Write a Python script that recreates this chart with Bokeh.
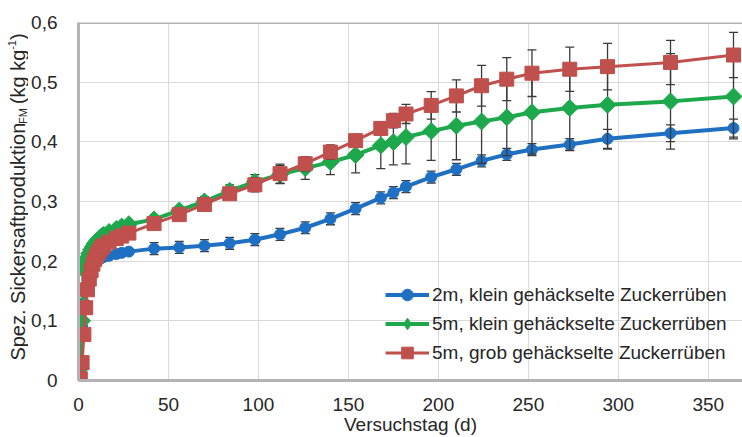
import numpy as np
from bokeh.plotting import figure
from bokeh.layouts import row
from bokeh.models import (Range1d, FixedTicker, Legend, LegendItem, Span,
                          ColumnDataSource)
from bokeh.core.properties import value
from bokeh.embed import file_html
from bokeh.resources import INLINE

# ---------------- data ----------------
days = [0, 1, 2, 3, 4, 5, 6, 7, 8, 9, 10, 11, 12, 13, 14, 17, 21, 24, 28,
        42, 56, 70, 84, 98, 112, 126, 140, 154, 168, 175, 182, 196, 210, 224,
        238, 252, 273, 294, 329, 364]

blue_vals = [0, 0.02, 0.09, 0.13, 0.155, 0.17, 0.18, 0.187, 0.192, 0.196, 0.199,
             0.202, 0.204, 0.206, 0.207, 0.209, 0.212, 0.214, 0.216,
             0.221, 0.223, 0.226, 0.230, 0.236, 0.245, 0.256, 0.271, 0.288, 0.306,
             0.315, 0.325, 0.341, 0.354, 0.368, 0.379, 0.387, 0.3955, 0.405,
             0.4145, 0.423]
blue_err = [0.003] * 19 + [0.01, 0.01, 0.01, 0.01, 0.01, 0.01, 0.01, 0.01, 0.01,
                           0.01, 0.01, 0.01, 0.01, 0.01, 0.01, 0.01, 0.01, 0.01,
                           0.016, 0.014, 0.015]

green_vals = [0, 0.02, 0.10, 0.185, 0.197, 0.206, 0.213, 0.219, 0.224, 0.229, 0.233,
              0.236, 0.239, 0.242, 0.244, 0.249, 0.254, 0.258, 0.262,
              0.27, 0.285, 0.30, 0.318, 0.333, 0.345, 0.356, 0.366, 0.378, 0.394,
              0.3995, 0.408, 0.418, 0.427, 0.434, 0.441, 0.4495, 0.4567, 0.462,
              0.4678, 0.476]
green_err = [0.004] * 19 + [0.005, 0.005, 0.008, 0.01, 0.012, 0.015, 0.019, 0.021,
                            0.03, 0.039, 0.038, 0.045, 0.049, 0.057, 0.07, 0.064,
                            0.07, 0.071, 0.074, 0.08, 0.071]

red_vals = [0, 0.003, 0.03, 0.077, 0.122, 0.152, 0.17, 0.184, 0.195, 0.203, 0.209,
            0.214, 0.219, 0.223, 0.226, 0.232, 0.238, 0.242, 0.247,
            0.263, 0.278, 0.295, 0.313, 0.328, 0.3467, 0.3633, 0.3828, 0.402,
            0.4225, 0.4355, 0.4467, 0.461, 0.477, 0.494, 0.505, 0.515, 0.5217,
            0.526, 0.533, 0.5455]
red_err = [0.004] * 19 + [0.008, 0.008, 0.008, 0.01, 0.012, 0.016, 0.012, 0.012,
                          0.01, 0.01, 0.012, 0.016, 0.023, 0.027, 0.034, 0.036,
                          0.039, 0.037, 0.039, 0.037, 0.038]

series_names = ["2m, klein gehäckselte Zuckerrüben",
                "5m, klein gehäckselte Zuckerrüben",
                "5m, grob gehäckselte Zuckerrüben"]

x_ticks = [0, 50, 100, 150, 200, 250, 300, 350]
y_ticks = [0, 0.1, 0.2, 0.3, 0.4, 0.5, 0.6]
y_tick_labels = ["0", "0,1", "0,2", "0,3", "0,4", "0,5", "0,6"]

x_title = "Versuchstag (d)"
# y title pieces: main, subscript, unit, superscript, closing
y_title_parts = ["Spez. Sickersaftproduktion", "FM", "(kg kg", "-1", ")"]

# ---------------- main figure ----------------
FONT = "Liberation Sans"
TXT = "#262626"
LEFT_W = 28
TOP, BOTTOM = 22, 54
p = figure(width=742 - LEFT_W, height=437, output_backend="svg",
           toolbar_location=None,
           x_range=Range1d(0, 369), y_range=Range1d(0, 0.6),
           min_border_left=78 - LEFT_W, min_border_right=0, min_border_top=TOP,
           min_border_bottom=BOTTOM)
p.background_fill_color = "white"
p.border_fill_color = "white"
p.outline_line_color = None

p.xaxis.ticker = FixedTicker(ticks=x_ticks)
p.yaxis.ticker = FixedTicker(ticks=y_ticks)
p.yaxis.major_label_overrides = dict(zip(y_ticks, y_tick_labels))
for ax in (p.xaxis, p.yaxis):
    ax.axis_line_color = "#b3b3b3"
    ax.axis_line_width = 3
    ax.major_tick_line_color = None
    ax.minor_tick_line_color = None
    ax.major_label_text_font = FONT
    ax.major_label_text_font_size = "19px"
    ax.major_label_text_color = TXT
p.xaxis.major_label_standoff = 11
p.yaxis.major_label_standoff = 15
p.xaxis.axis_label = x_title
p.xaxis.axis_label_text_font = FONT
p.xaxis.axis_label_text_font_size = "19px"
p.xaxis.axis_label_text_font_style = "normal"
p.xaxis.axis_label_text_color = TXT
p.xaxis.axis_label_standoff = 0

p.xgrid.ticker = FixedTicker(ticks=x_ticks)
p.ygrid.ticker = FixedTicker(ticks=y_ticks)
p.xgrid.grid_line_color = "#d9d9d9"
p.ygrid.grid_line_color = "#d9d9d9"

p.add_layout(Span(location=0.6, dimension="width", line_color="#b3b3b3",
                  line_width=3))

# ---------------- series ----------------
styles = [
    dict(color="#1f6fc2", lw=4, marker="circle", size=11, angle=0.0, leg="circle"),
    dict(color="#1ea84c", lw=4, marker="square", size=12, angle=np.pi / 4,
         leg="diamond"),
    dict(color="#c0504d", lw=3, marker="square", size=14, angle=0.0, leg="square"),
]
data = [(blue_vals, blue_err), (green_vals, green_err), (red_vals, red_err)]
ERR = "#3a3a3a"
items = []
for (vals, errs), st, name in zip(data, styles, series_names):
    v = np.array(vals)
    e = np.array(errs)
    src = ColumnDataSource(dict(x=days, y=vals, lo=list(v - e), hi=list(v + e)))
    lr = p.line("x", "y", source=src, line_color=st["color"], line_width=st["lw"])
    p.segment(x0="x", y0="lo", x1="x", y1="hi", source=src, line_color=ERR,
              line_width=1.3)
    p.scatter("x", "lo", source=src, marker="dash", size=9, line_color=ERR,
              line_width=1.3)
    p.scatter("x", "hi", source=src, marker="dash", size=9, line_color=ERR,
              line_width=1.3)
    # legend symbol renderer: small marker fully covered by the plotted marker
    lm = p.scatter("x", "y", source=src, marker=st["leg"], size=8,
                   fill_color=st["color"], line_color=st["color"])
    p.scatter("x", "y", source=src, marker=st["marker"], size=st["size"],
              angle=st["angle"], fill_color=st["color"], line_color=st["color"])
    items.append(LegendItem(label=name, renderers=[lr, lm]))

legend = Legend(items=items, location=(307, 13), orientation="vertical",
                glyph_width=44, glyph_height=29, label_height=29, spacing=0,
                padding=0, margin=0, label_standoff=3,
                label_text_font=FONT, label_text_font_size="19px",
                label_text_color=TXT, border_line_color=None,
                background_fill_alpha=0)
p.add_layout(legend)

# ---------------- y title strip (left), shares the y range ----------------
lab = figure(width=LEFT_W, height=437, output_backend="svg",
             toolbar_location=None, x_range=Range1d(0, LEFT_W),
             y_range=p.y_range, min_border_left=0, min_border_right=0,
             min_border_top=TOP, min_border_bottom=BOTTOM,
             x_axis_location=None, y_axis_location=None)
lab.grid.visible = False
lab.outline_line_color = None
lab.background_fill_color = "white"
lab.border_fill_color = "white"


def py2y(py):
    # pixel row (from top of the page) -> value on the shared y range
    return (383 - py) / 600


# (start pixel row, x centre in px, font size)
placements = [(363, 17, "20px"), (125, 22, "11px"), (105, 17, "20px"),
              (50.5, 11.5, "11px"), (40.5, 17, "20px")]
for txt, (py, px, fs) in zip(y_title_parts, placements):
    lab.text(x=[px], y=[py2y(py)], text=[txt], angle=np.pi / 2,
             text_align="left", text_baseline="middle",
             text_font=value(FONT), text_font_size=value(fs), text_color=TXT)

layout = row(lab, p, spacing=0)
open("out.html", "w").write(file_html(layout, INLINE))
